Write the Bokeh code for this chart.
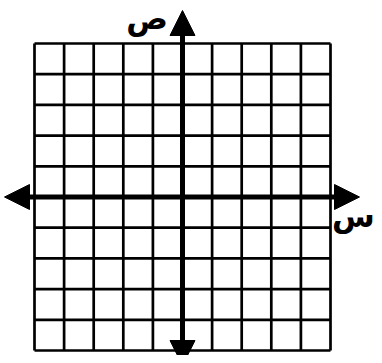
from bokeh.plotting import figure
from bokeh.models import Range1d, Arrow, NormalHead
from bokeh.core.properties import value
from bokeh.embed import file_html
from bokeh.resources import INLINE

# grid positions (units)
x_lines = [-5, -4, -3, -2, -1, 0, 1, 2, 3, 4, 5]
y_lines = [-5, -4, -3, -2, -1, 0, 1, 2, 3, 4, 5]
x_label = "س"
y_label = "ص"

W, H = 374, 355
CX, CY = 182.0, 196.5      # origin in pixels
SX, SY = 29.6, 30.7        # pixels per unit

p = figure(width=W, height=H, output_backend="svg", toolbar_location=None,
           x_range=Range1d(-CX / SX, (W - CX) / SX),
           y_range=Range1d((CY - H) / SY, CY / SY),
           min_border=0, x_axis_type=None, y_axis_type=None)
p.outline_line_color = None
p.xgrid.visible = False
p.ygrid.visible = False
p.background_fill_color = "white"
p.border_fill_color = "white"

xmin, xmax = min(x_lines), max(x_lines)
ymin, ymax = min(y_lines), max(y_lines)

# vertical grid lines
p.segment(x0=x_lines, y0=[ymin] * len(x_lines), x1=x_lines, y1=[ymax] * len(x_lines),
          line_color="black", line_width=2.7)
# horizontal grid lines
p.segment(x0=[xmin] * len(y_lines), y0=y_lines, x1=[xmax] * len(y_lines), y1=y_lines,
          line_color="black", line_width=2.7)

def head():
    return NormalHead(size=25, fill_color="black", line_color="black", line_width=1)

# axes with arrow heads
p.add_layout(Arrow(x_start=(4 - CX) / SX, y_start=0, x_end=(359 - CX) / SX, y_end=0,
                   start=head(), end=head(), line_width=5, line_color="black"))
p.add_layout(Arrow(x_start=0, y_start=(CY - 365) / SY, x_end=0, y_end=(CY - 10) / SY,
                   start=head(), end=head(), line_width=5, line_color="black"))

p.text(x=[(146.5 - CX) / SX], y=[(CY - 17) / SY], text=[y_label], text_font=value("DejaVu Sans"),
       text_font_style="bold", text_font_size="31px", text_align="center",
       text_baseline="middle", text_color="black")
p.text(x=[(353 - CX) / SX], y=[(CY - 215) / SY], text=[x_label], text_font=value("DejaVu Sans"),
       text_font_style="bold", text_font_size="31px", text_align="center",
       text_baseline="middle", text_color="black")

open("out.html", "w").write(file_html(p, INLINE))
